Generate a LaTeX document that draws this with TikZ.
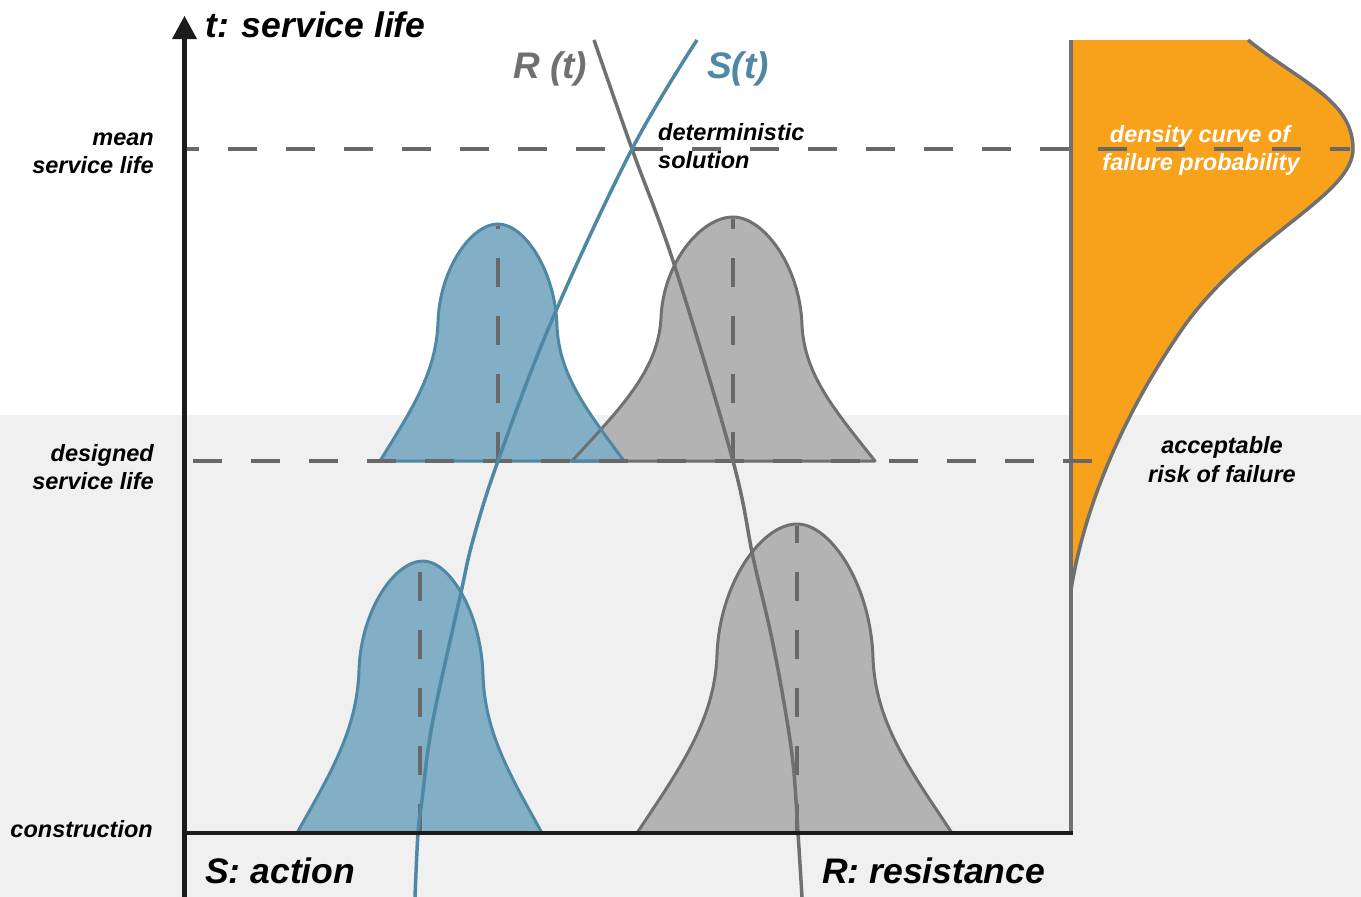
\documentclass[tikz,border=0pt]{standalone}
\usepackage{fontspec}
\setmainfont{Liberation Sans}

\definecolor{bluestroke}{HTML}{4E88A4}
\definecolor{bluefill}{HTML}{82AFC5}
\definecolor{graystroke}{HTML}{707070}
\definecolor{grayfill}{HTML}{B3B3B3}
\definecolor{dashgray}{HTML}{686868}
\definecolor{lightbg}{HTML}{F0F0F0}
\definecolor{orangefill}{HTML}{F8A11B}
\definecolor{axisblack}{HTML}{1C1C1C}

% Bell-shaped density outline:
% #1 left foot x, #2 base y, #3/#4 left shoulder, #5/#6 peak, #7/#8 right shoulder, #9 right foot x
\newcommand{\bellpath}[9]{%
  (#1,#2) .. controls ({#1+0.53*(#3-#1)},{#2-0.36*(#2-#4)}) and ({#3-0.03*(#3-#1)},{#4+0.37*(#2-#4)}) .. (#3,#4)
  .. controls ({#3+0.03*(#5-#3)},{#4-0.55*(#4-#6)}) and ({#5-0.44*(#5-#3)},#6) .. (#5,#6)
  .. controls ({#5+0.44*(#7-#5)},#6) and ({#7-0.03*(#7-#5)},{#8-0.55*(#8-#6)}) .. (#7,#8)
  .. controls ({#7+0.03*(#9-#7)},{#8+0.37*(#2-#8)}) and ({#9-0.53*(#9-#7)},{#2-0.36*(#2-#8)}) .. (#9,#2) -- cycle}

\begin{document}
\begin{tikzpicture}[x=1pt,y=-1pt,
  small/.style={font=\fontsize{23.5}{28}\selectfont\bfseries\itshape, inner sep=0pt},
  big/.style={font=\fontsize{35.5}{40}\selectfont\bfseries\itshape, inner sep=0pt},
  bluefillstyle/.style={fill=bluefill},
  grayfillstyle/.style={fill=grayfill},
  blueline/.style={draw=bluestroke, line width=3pt, line join=round},
  grayline/.style={draw=graystroke, line width=3pt, line join=round},
  middash/.style={draw=dashgray, line width=3.5pt, dash pattern=on 29pt off 29pt},
  guide/.style={draw=dashgray, line width=3.5pt, dash pattern=on 29pt off 29pt},
  curveS/.style={draw=bluestroke, line width=3.5pt},
  curveR/.style={draw=graystroke, line width=3.5pt},
  axis/.style={draw=axisblack}]

\useasboundingbox (0,0) rectangle (1361,897);

% backgrounds: white above, light grey band below
\fill[white] (0,0) rectangle (1361,897);
\fill[lightbg] (0,415) rectangle (1361,897);

% failure probability density (orange)
\fill[orangefill] (1071,40) -- (1248,40) .. controls (1300,82) and (1353,100) .. (1353,149)
  .. controls (1353,195) and (1250,235) .. (1185,325)
  .. controls (1115,425) and (1082,520) .. (1071,590) -- cycle;
\draw[graystroke, line width=3.5pt] (1248,40) .. controls (1300,82) and (1353,100) .. (1353,149)
  .. controls (1353,195) and (1250,235) .. (1185,325)
  .. controls (1115,425) and (1082,520) .. (1071,590);
\draw[graystroke, line width=3.5pt] (1071,40) -- (1071,833);

% upper pair of densities (designed service life)
\fill[grayfillstyle] \bellpath{572}{461}{661}{318}{733}{217}{802}{325}{875};
\fill[bluefillstyle] \bellpath{380}{461}{438}{322}{498}{224}{557}{326}{624};
\draw[grayline] \bellpath{572}{461}{661}{318}{733}{217}{802}{325}{875};
\draw[blueline] \bellpath{380}{461}{438}{322}{498}{224}{557}{326}{624};

% lower pair of densities (construction)
\fill[bluefillstyle] \bellpath{297}{833}{359}{670}{423}{561}{483}{675}{542};
\draw[blueline] \bellpath{297}{833}{359}{670}{423}{561}{483}{675}{542};
\fill[grayfillstyle] \bellpath{637}{833}{717}{655}{797}{524}{873}{658}{952};
\draw[grayline] \bellpath{637}{833}{717}{655}{797}{524}{873}{658}{952};

% mean value markers
\draw[middash] (498,461) -- (498,226);
\draw[middash] (733,461) -- (733,219);
\draw[middash] (420,833) -- (420,563);
\draw[middash] (797,833) -- (797,526);

% time levels
\draw[guide, dash phase=14pt] (184,149) -- (1350,149);
\draw[guide, dash phase=49pt] (184,461) -- (1092,461);

% resistance and action over time
\draw[curveR] plot[smooth, tension=0.6] coordinates {(594,40) (632,149) (675,267) (733,461) (753,557) (770,630) (783,697) (793,763) (798,833) (802,897)};
\draw[curveS] plot[smooth, tension=0.6] coordinates {(697,40) (632,149) (552,320) (498,461) (473,540) (460,597) (437,700) (428,750) (422,800) (418,833) (415,897)};

% axes
\draw[axis, line width=5pt] (184,897) -- (184,38);
\fill[axisblack] (172,39) -- (184.5,16) -- (197,39) -- cycle;
\draw[axis, line width=4pt] (184,833) -- (1073,833);

% labels
\node[big, anchor=base west] (tlabel) at (205,37) {t: service life};
\node[big, text=graystroke, anchor=base west, font=\fontsize{37}{40}\selectfont\bfseries\itshape] (Rlab) at (513,78) {R (t)};
\node[big, text=bluestroke, anchor=base west, font=\fontsize{37}{40}\selectfont\bfseries\itshape] (Slab) at (707,78) {S(t)};
\node[small, anchor=base west] (det1) at (658,140) {deterministic};
\node[small, anchor=base west] (det2) at (658,168) {solution};
\node[small, anchor=base east] (mean1) at (154,145) {mean};
\node[small, anchor=base east] (mean2) at (154,173) {service life};
\node[small, anchor=base east] (des1) at (154,461) {designed};
\node[small, anchor=base east] (des2) at (154,489) {service life};
\node[small, anchor=base east] (constr) at (153,837) {construction};
\node[small, anchor=base] (acc1) at (1222,453) {acceptable};
\node[small, anchor=base] (acc2) at (1222,482) {risk of failure};
\node[small, text=white, anchor=base] (dens1) at (1200,142) {density curve of};
\node[small, text=white, anchor=base] (dens2) at (1201,170) {failure probability};
\node[big, anchor=base west] (Sact) at (205,883) {S: action};
\node[big, anchor=base west] (Rres) at (822,883) {R: resistance};

\end{tikzpicture}
\end{document}
